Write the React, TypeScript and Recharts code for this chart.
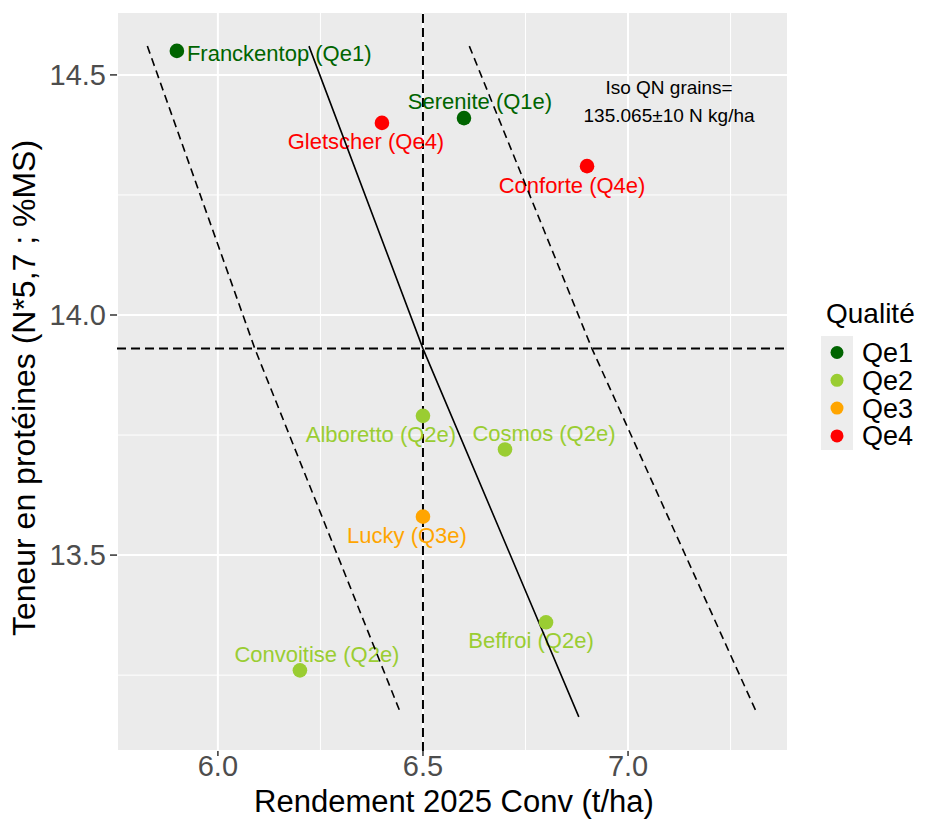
import { ScatterChart, Scatter, XAxis, YAxis, CartesianGrid, ReferenceLine, Label } from "recharts"

// varieties
const names = ["Franckentop", "Serenite", "Gletscher", "Conforte", "Alboretto", "Cosmos", "Lucky", "Beffroi", "Convoitise"]
const labels = [
  "Franckentop (Qe1)",
  "Serenite (Q1e)",
  "Gletscher (Qe4)",
  "Conforte (Q4e)",
  "Alboretto (Q2e)",
  "Cosmos (Q2e)",
  "Lucky (Q3e)",
  "Beffroi (Q2e)",
  "Convoitise (Q2e)",
]
const yields = [5.9, 6.6, 6.4, 6.9, 6.5, 6.7, 6.5, 6.8, 6.2]
const proteins = [14.55, 14.41, 14.4, 14.31, 13.79, 13.72, 13.58, 13.36, 13.26]
const qualities = ["Qe1", "Qe1", "Qe4", "Qe4", "Qe2", "Qe2", "Qe3", "Qe2", "Qe2"]

// moyennes
const meanYield = 6.5
const meanProtein = 13.93

// iso QN lines (135.065 -10 / 0 / +10)
const isoLowYield = [5.828, 6.09, 6.444]
const isoLowProtein = [14.56, 13.93, 13.174]
const isoMidYield = [6.222, 6.5, 6.88]
const isoMidProtein = [14.56, 13.93, 13.163]
const isoHighYield = [6.613, 6.912, 7.315]
const isoHighProtein = [14.56, 13.93, 13.169]

const legendKeys = ["Qe1", "Qe2", "Qe3", "Qe4"]
const xTicks = [6.0, 6.5, 7.0]
const yTicks = [13.5, 14.0, 14.5]
const minorX = [6.25, 6.75, 7.25]
const minorY = [13.25, 13.75, 14.25]

const annotationLines = ["Iso QN grains=", "135.065±10 N kg/ha"]
const annotationAt = { x: 7.1, y: 14.445 }

const colors: Record<string, string> = {
  Qe1: "#006400",
  Qe2: "#9ACD32",
  Qe3: "#FFA500",
  Qe4: "#FF0000",
}

// label placement around each point (dx, dy, anchor)
const labelPos: Record<string, { dx: number; dy: number; anchor: string }> = {
  Franckentop: { dx: 10, dy: 2, anchor: "start" },
  Serenite: { dx: 16, dy: -17, anchor: "middle" },
  Gletscher: { dx: -16, dy: 18, anchor: "middle" },
  Conforte: { dx: -15, dy: 19, anchor: "middle" },
  Alboretto: { dx: -42, dy: 18, anchor: "middle" },
  Cosmos: { dx: 39, dy: -16, anchor: "middle" },
  Lucky: { dx: -16, dy: 19, anchor: "middle" },
  Beffroi: { dx: -15, dy: 18, anchor: "middle" },
  Convoitise: { dx: 17, dy: -16, anchor: "middle" },
}

const FONT = "'Liberation Sans', Arial, sans-serif"

const points = names.map((n, i) => ({
  name: n,
  label: labels[i],
  x: yields[i],
  y: proteins[i],
  quality: qualities[i],
}))

const toLine = (xs: number[], ys: number[]) => xs.map((x, i) => ({ x, y: ys[i] }))
const isoLow = toLine(isoLowYield, isoLowProtein)
const isoMid = toLine(isoMidYield, isoMidProtein)
const isoHigh = toLine(isoHighYield, isoHighProtein)

const XTick = (props: any) => {
  const { x, y, payload } = props
  return (
    <text x={x} y={y} dy={20} textAnchor="middle" fontSize={29} fill="#4D4D4D" fontFamily={FONT}>
      {Number(payload.value).toFixed(1)}
    </text>
  )
}

const YTick = (props: any) => {
  const { x, y, payload } = props
  return (
    <text x={x} y={y} dy={10} textAnchor="end" fontSize={29} fill="#4D4D4D" fontFamily={FONT}>
      {Number(payload.value).toFixed(1)}
    </text>
  )
}

const PointLabel = (props: any) => {
  const { cx, cy, payload } = props
  const p = labelPos[payload.name]
  return (
    <text
      x={cx + p.dx}
      y={cy + p.dy}
      dy="0.35em"
      textAnchor={p.anchor}
      fontSize={22}
      fill={colors[payload.quality]}
      fontFamily={FONT}
    >
      {payload.label}
    </text>
  )
}

const PointDot = (props: any) => {
  const { cx, cy, payload } = props
  return <circle cx={cx} cy={cy} r={7.3} fill={colors[payload.quality]} />
}

const Annotation = (props: any) => {
  const { cx, cy } = props
  return (
    <text textAnchor="middle" fontSize={19} fill="#000" fontFamily={FONT}>
      <tspan x={cx} y={cy - 7.5}>{annotationLines[0]}</tspan>
      <tspan x={cx} y={cy + 20.5}>{annotationLines[1]}</tspan>
    </text>
  )
}

const XTitle = () => (
  <text x={454} y={812} textAnchor="middle" fontSize={31} fill="#000" fontFamily={FONT}>
    Rendement 2025 Conv (t/ha)
  </text>
)

const YTitle = () => (
  <text
    transform="translate(35,388) rotate(-90)"
    textAnchor="middle"
    fontSize={32}
    fill="#000"
    fontFamily={FONT}
  >
    Teneur en protéines (N*5,7 ; %MS)
  </text>
)

function LegendBox() {
  return (
    <svg width={925} height={823} style={{ position: "absolute", left: 0, top: 0, pointerEvents: "none" }}>
      <text x={826} y={323} fontSize={28} fill="#000" fontFamily={FONT}>
        Qualité
      </text>
      <rect x={821} y={336} width={32} height={114} fill="#EDEDED" />
      {legendKeys.map((k, i) => (
        <g key={k}>
          <circle cx={837} cy={352.5 + i * 27.8} r={6.5} fill={colors[k]} />
          <text x={862} y={362 + i * 27.8} fontSize={27} fill="#000" fontFamily={FONT}>
            {k}
          </text>
        </g>
      ))}
    </svg>
  )
}

export default function App() {
  return (
    <div style={{ position: "absolute", left: 0, top: 0, width: 925, height: 823, background: "#fff" }}>
      <ScatterChart width={925} height={823} margin={{ top: 12, right: 137, bottom: 0, left: 0 }}>
        <CartesianGrid fill="#EBEBEB" stroke="#FFFFFF" strokeWidth={2} />
        {minorX.map((v) => (
          <ReferenceLine key={"mx" + v} x={v} stroke="#FFFFFF" strokeWidth={1} />
        ))}
        {minorY.map((v) => (
          <ReferenceLine key={"my" + v} y={v} stroke="#FFFFFF" strokeWidth={1} />
        ))}
        <XAxis
          type="number"
          dataKey="x"
          domain={[5.754, 7.39]}
          ticks={xTicks}
          allowDataOverflow
          height={72}
          axisLine={false}
          tickLine={{ stroke: "#333333", strokeWidth: 1.5 }}
          tickSize={5}
          tickMargin={0}
          tick={<XTick />}
        >
          <Label content={<XTitle />} />
        </XAxis>
        <YAxis
          type="number"
          dataKey="y"
          domain={[13.092, 14.631]}
          ticks={yTicks}
          allowDataOverflow
          width={117}
          axisLine={false}
          tickLine={{ stroke: "#333333", strokeWidth: 1.5 }}
          tickSize={7}
          tickMargin={4}
          tick={<YTick />}
        >
          <Label content={<YTitle />} />
        </YAxis>
        <Scatter data={points} shape={<PointLabel />} isAnimationActive={false} />
        <ReferenceLine x={meanYield} stroke="#000" strokeWidth={2} strokeDasharray="9 5" />
        <ReferenceLine y={meanProtein} stroke="#000" strokeWidth={2} strokeDasharray="9 5" />
        <Scatter
          data={isoLow}
          line={{ stroke: "#000", strokeWidth: 1.6, strokeDasharray: "8 5" }}
          shape={() => <g />}
          isAnimationActive={false}
        />
        <Scatter
          data={isoMid}
          line={{ stroke: "#000", strokeWidth: 1.6 }}
          shape={() => <g />}
          isAnimationActive={false}
        />
        <Scatter
          data={isoHigh}
          line={{ stroke: "#000", strokeWidth: 1.6, strokeDasharray: "8 5" }}
          shape={() => <g />}
          isAnimationActive={false}
        />
        <Scatter data={points} shape={<PointDot />} isAnimationActive={false} />
        <Scatter data={[annotationAt]} shape={<Annotation />} isAnimationActive={false} />
      </ScatterChart>
      <LegendBox />
    </div>
  )
}
